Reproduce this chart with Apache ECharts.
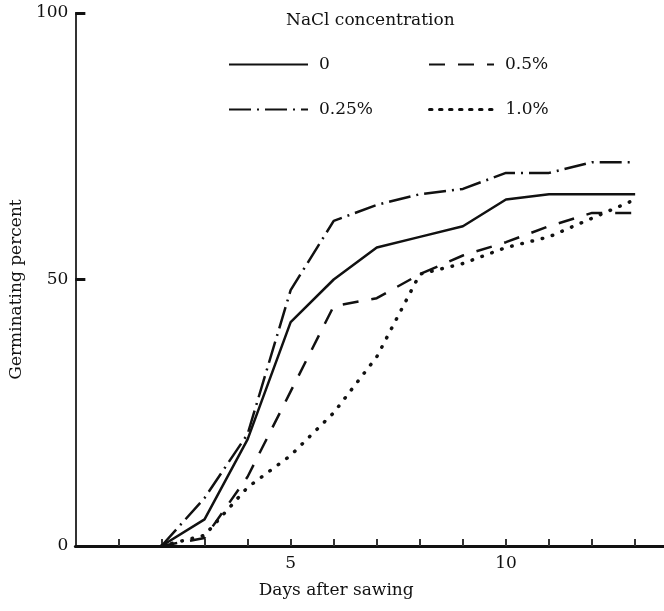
<!DOCTYPE html>
<html>
<head>
<meta charset="utf-8">
<script src="https://cdn.jsdelivr.net/npm/echarts@6/dist/echarts.min.js"></script>
<style>
  html, body { margin: 0; padding: 0; background: #fff; }
  #chart { width: 664px; height: 611px; }
</style>
</head>
<body>
<div id="chart"></div>
<script>
// germination data, days after sawing vs percent
var days = [2, 3, 4, 5, 6, 7, 8, 9, 10, 11, 12, 13]
var pct0 = [0, 5, 20, 42, 50, 56, 58, 60, 65, 66, 66, 66]
var pct025 = [0, 9, 21, 48, 61, 64, 66, 67, 70, 70, 72, 72]
var pct05 = [0, 1.5, 13, 29, 45, 46.5, 51, 54.5, 57, 60, 62.5, 62.5]
var pct10 = [0, 2, 11, 17, 25, 35.5, 51, 53, 56, 58, 61.5, 65]

var seriesNames = ['0', '0.25%', '0.5%', '1.0%']
var xTicks = [1, 2, 3, 4, 5, 6, 7, 8, 9, 10, 11, 12, 13]
var xLabels = [5, 10]
var yTicks = [50, 100]
var yLabels = [0, 50, 100]

var font = 'DejaVu Serif'
var ink = '#111'

function pairs(values) {
    return days.map(function(d, i) {
        return [d, values[i]]
    })
}

var dashes = {
    '0': 'solid',
    '0.25%': [22, 6, 2, 6],
    '0.5%': [16, 13],
    '1.0%': [0.5, 10]
}
var values = {
    '0': pct0,
    '0.25%': pct025,
    '0.5%': pct05,
    '1.0%': pct10
}

function legendAt(name, left, top, width) {
    // the dotted icon gets short square dashes, round caps do not carry over
    var line = name === '1.0%' ? { type: [2.5, 7.5], width: 3 } : {}
    return {
        data: [name],
        left: left,
        top: top,
        padding: 0,
        itemWidth: width,
        itemHeight: 14,
        selectedMode: false,
        // line only, hide the marker drawn on the icon
        itemStyle: { opacity: 0 },
        lineStyle: line,
        textStyle: {
            fontFamily: font,
            fontSize: 17,
            color: ink,
            padding: [0, 0, 0, 6]
        }
    }
}

var chart = echarts.init(document.getElementById('chart'))

chart.setOption({
    animation: false,
    backgroundColor: '#fff',
    title: {
        text: 'NaCl concentration',
        left: 286,
        top: 12,
        padding: 0,
        textStyle: {
            fontFamily: font,
            fontSize: 17,
            fontWeight: 'normal',
            color: ink
        }
    },
    legend: [
        legendAt('0', 228, 56, 79),
        legendAt('0.5%', 428, 56, 65),
        legendAt('0.25%', 228, 101, 79),
        legendAt('1.0%', 428, 101, 65)
    ],
    grid: {
        left: 75,
        right: 0,
        top: 13,
        bottom: 65
    },
    xAxis: {
        type: 'value',
        min: 0,
        max: 13.67,
        interval: 1,
        name: 'Days after sawing',
        nameLocation: 'middle',
        nameGap: 36,
        nameTextStyle: {
            fontFamily: font,
            fontSize: 17,
            color: ink,
            padding: [0, 67, 0, 0]
        },
        splitLine: { show: false },
        axisLine: {
            lineStyle: { color: ink, width: 3 }
        },
        axisTick: {
            inside: true,
            length: 7,
            customValues: xTicks,
            lineStyle: { color: '#333', width: 2 }
        },
        axisLabel: {
            customValues: xLabels,
            margin: 9,
            fontFamily: font,
            fontSize: 17,
            color: ink
        }
    },
    yAxis: {
        type: 'value',
        min: 0,
        max: 100,
        interval: 50,
        name: 'Germinating percent',
        nameLocation: 'middle',
        nameGap: 42,
        nameTextStyle: {
            fontFamily: font,
            fontSize: 17,
            color: ink,
            padding: [0, 20, 0, 0]
        },
        splitLine: { show: false },
        axisLine: {
            show: true,
            lineStyle: { color: '#333', width: 2 }
        },
        axisTick: {
            show: true,
            inside: true,
            length: 10,
            customValues: yTicks,
            lineStyle: { color: ink, width: 3 }
        },
        axisLabel: {
            customValues: yLabels,
            margin: 7,
            fontFamily: font,
            fontSize: 17,
            color: ink
        }
    },
    series: seriesNames.map(function(name) {
        return {
            name: name,
            type: 'line',
            symbol: 'none',
            data: pairs(values[name]),
            color: ink,
            lineStyle: {
                color: ink,
                width: name === '1.0%' ? 3.5 : 2.5,
                type: dashes[name],
                cap: name === '1.0%' ? 'round' : 'butt'
            }
        }
    })
})
</script>
</body>
</html>
